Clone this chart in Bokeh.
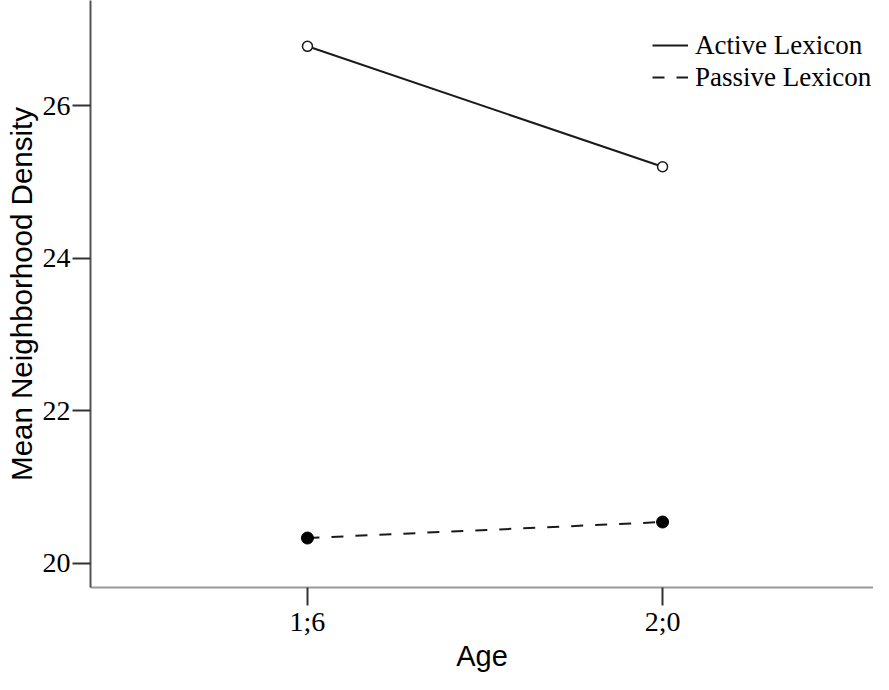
from bokeh.plotting import figure
from bokeh.models import Range1d, FixedTicker, Legend, LegendItem
from bokeh.embed import file_html
from bokeh.resources import INLINE

# ---- data ----
ages = ["1;6", "2;0"]
active_lexicon = [26.78, 25.20]
passive_lexicon = [20.33, 20.54]
y_ticks = [20, 22, 24, 26]

x = list(range(len(ages)))

p = figure(width=873, height=674, output_backend="svg", toolbar_location=None,
           x_range=Range1d(-0.611, 1.594), y_range=Range1d(19.681, 27.381),
           min_border_left=90, min_border_right=0, min_border_top=0,
           min_border_bottom=87)
p.outline_line_color = None
p.xgrid.grid_line_color = None
p.ygrid.grid_line_color = None
p.background_fill_color = "white"
p.border_fill_color = "white"

# x axis
xa = p.xaxis[0]
xa.ticker = FixedTicker(ticks=x)
xa.major_label_overrides = {i: a for i, a in zip(x, ages)}
xa.axis_line_color = "#9a9a9a"
xa.axis_line_width = 2
xa.major_tick_line_color = "#333333"
xa.major_tick_line_width = 2
xa.major_tick_out = 18
xa.major_tick_in = 0
xa.minor_tick_line_color = None
xa.major_label_text_font = "Liberation Serif"
xa.major_label_text_font_size = "28px"
xa.major_label_text_line_height = 1.0
xa.major_label_text_color = "black"
xa.major_label_standoff = 0
xa.axis_label = "Age"
xa.axis_label_text_font = "Liberation Sans"
xa.axis_label_text_font_size = "29px"
xa.axis_label_text_line_height = 1.0
xa.axis_label_text_font_style = "normal"
xa.axis_label_text_color = "black"
xa.axis_label_standoff = 0

# y axis
ya = p.yaxis[0]
ya.ticker = FixedTicker(ticks=y_ticks)
ya.axis_line_color = "#555555"
ya.axis_line_width = 2
ya.major_tick_line_color = "#333333"
ya.major_tick_line_width = 2
ya.major_tick_out = 18
ya.major_tick_in = 0
ya.minor_tick_line_color = None
ya.major_label_text_font = "Liberation Serif"
ya.major_label_text_font_size = "28px"
ya.major_label_text_color = "black"
ya.major_label_standoff = 2
ya.axis_label = "Mean Neighborhood Density"
ya.axis_label_text_font = "Liberation Sans"
ya.axis_label_text_font_size = "29.5px"
ya.axis_label_text_line_height = 1.0
ya.axis_label_text_font_style = "normal"
ya.axis_label_text_color = "black"
ya.axis_label_standoff = 2

# series
l_act = p.line(x, active_lexicon, line_color="#1a1a1a", line_width=2)
p.scatter(x, active_lexicon, marker="circle", size=10, fill_color="white",
          line_color="#1a1a1a", line_width=1.5)
l_pas = p.line(x, passive_lexicon, line_color="#1a1a1a", line_width=2,
               line_dash="12 12")
p.scatter(x, passive_lexicon, marker="circle", size=12, fill_color="black",
          line_color="black", line_width=1)

legend = Legend(items=[LegendItem(label="Active Lexicon", renderers=[l_act]),
                       LegendItem(label="Passive Lexicon", renderers=[l_pas])],
                location=(562, 494), padding=0, margin=0,
                border_line_color=None, background_fill_alpha=0,
                label_text_font="Liberation Serif", label_text_font_size="27px",
                label_text_color="black",
                glyph_width=36, glyph_height=32, label_height=32,
                label_standoff=7, spacing=0)
p.add_layout(legend)

open("out.html", "w").write(file_html(p, INLINE))
